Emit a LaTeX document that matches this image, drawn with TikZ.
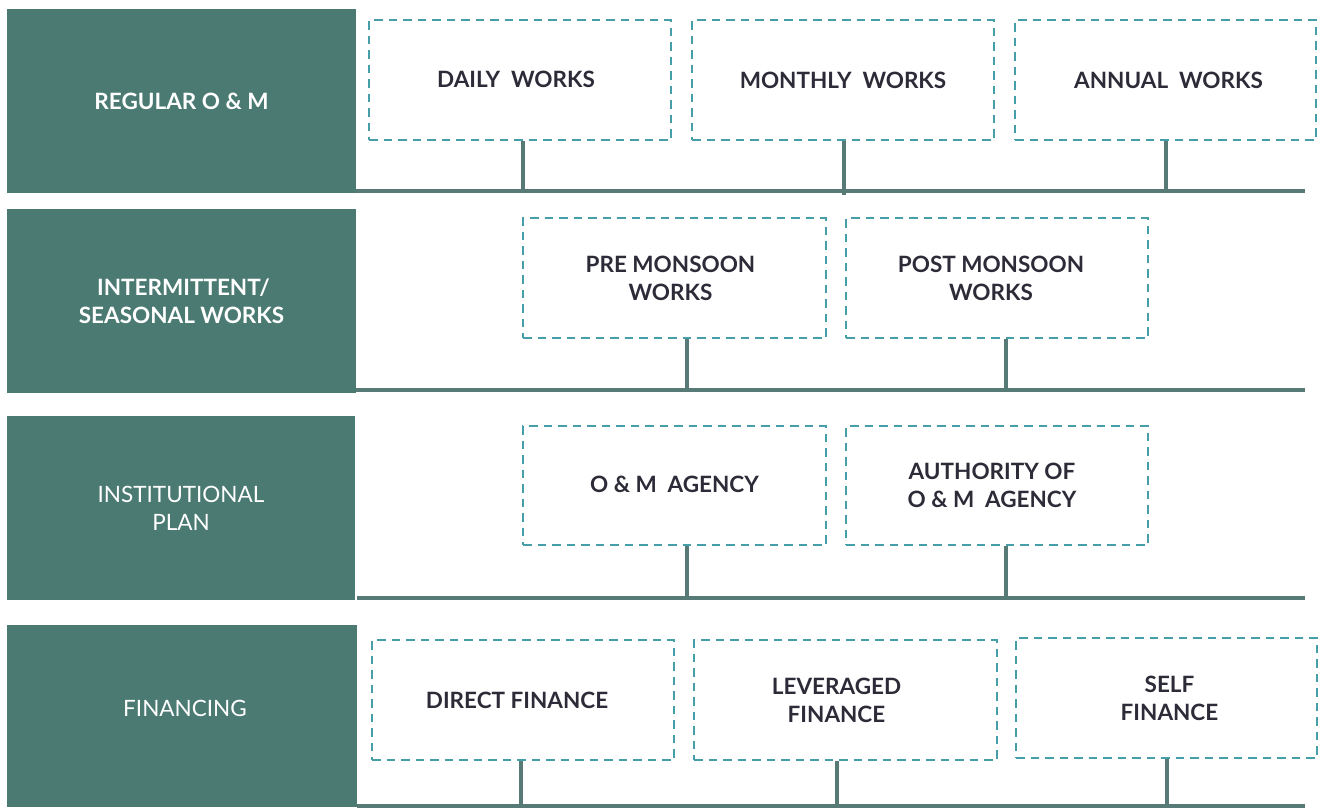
\documentclass[tikz,border=0pt]{standalone}
\usepackage{fontspec}
\setmainfont{Lato}
\usetikzlibrary{calc}
\definecolor{blockgreen}{RGB}{74,122,114}
\definecolor{rulegreen}{RGB}{88,122,118}
\definecolor{dashteal}{RGB}{70,158,168}
\definecolor{inktext}{RGB}{46,43,56}
% move one centred line sideways by #1 (negative = left)
\newcommand\sidestep[2]{\hspace*{#1}\hspace*{#1}#2}
\tikzset{
  catblock/.style={fill=blockgreen, draw=none, inner sep=0pt, align=center,
    text=white, font=\fontsize{22.5}{28}\selectfont},
  itembox/.style={draw=dashteal, line width=2.2pt, dash pattern=on 8.5pt off 6pt,
    inner sep=0pt, align=center, text=inktext,
    font=\fontsize{22.5}{28}\selectfont\bfseries},
  hrule/.style={draw=rulegreen, line width=4pt},
  vlink/.style={draw=rulegreen, line width=3.2pt},
}
\begin{document}
\begin{tikzpicture}[x=1pt,y=-1pt]
\useasboundingbox (0,0) rectangle (1318,807);

% category blocks
\node[catblock, minimum width=349pt, minimum height=184pt] (g1) at (181.5,101) {\bfseries REGULAR O \& M};
\node[catblock, minimum width=349pt, minimum height=184pt] (g2) at (181.5,301) {\bfseries \sidestep{2pt}{INTERMITTENT/}\\\bfseries SEASONAL WORKS};
\node[catblock, minimum width=348pt, minimum height=184pt] (g3) at (181,508) {INSTITUTIONAL\\PLAN};
\node[catblock, minimum width=350pt, minimum height=182pt] (g4) at (182,716) {\raisebox{15pt}{\sidestep{3pt}{FINANCING}}};

% item boxes
\node[itembox, minimum width=302pt, minimum height=120pt] (daily) at (520,80) {\raisebox{2pt}{\sidestep{-4pt}{DAILY\ \ WORKS}}};
\node[itembox, minimum width=302pt, minimum height=120pt] (monthly) at (843,80) {MONTHLY\ \ WORKS};
\node[itembox, minimum width=301pt, minimum height=120pt] (annual) at (1165.5,80) {\sidestep{3pt}{ANNUAL\ \ WORKS}};

\node[itembox, minimum width=303pt, minimum height=120pt] (pre) at (674.5,278) {\sidestep{-4pt}{PRE MONSOON}\\\sidestep{-4pt}{WORKS}};
\node[itembox, minimum width=302pt, minimum height=120pt] (post) at (997,278) {\sidestep{-6pt}{POST MONSOON}\\\sidestep{-6pt}{WORKS}};

\node[itembox, minimum width=303pt, minimum height=119pt] (agency) at (674.5,485.5) {\raisebox{2pt}{O \& M\ \ AGENCY}};
\node[itembox, minimum width=302pt, minimum height=119pt] (authority) at (997,485.5) {\sidestep{-5pt}{AUTHORITY OF}\\\sidestep{-5pt}{O \& M\ \ AGENCY}};

\node[itembox, minimum width=302pt, minimum height=120pt] (direct) at (523,700) {\sidestep{-6pt}{DIRECT FINANCE}};
\node[itembox, minimum width=303pt, minimum height=120pt] (leveraged) at (845.5,700) {\sidestep{-9pt}{LEVERAGED}\\\sidestep{-9pt}{FINANCE}};
\node[itembox, minimum width=301pt, minimum height=120pt] (self) at (1166.5,698) {\sidestep{3pt}{SELF}\\\sidestep{3pt}{FINANCE}};

% baselines under each row
\coordinate (r1a) at (356,191); \coordinate (r1b) at (1305,191);
\coordinate (r2a) at (356,390); \coordinate (r2b) at (1305,390);
\coordinate (r3a) at (357,598); \coordinate (r3b) at (1305,598);
\coordinate (r4a) at (357,806); \coordinate (r4b) at (1305,806);
\draw[hrule] (r1a) -- (r1b);
\draw[hrule] (r2a) -- (r2b);
\draw[hrule] (r3a) -- (r3b);
\draw[hrule] (r4a) -- (r4b);

% connector feet on the baselines
\coordinate (f1a) at (523,191);  \coordinate (f1b) at (844,195);  \coordinate (f1c) at (1166,191);
\coordinate (f2a) at (687,390);  \coordinate (f2b) at (1006,390);
\coordinate (f3a) at (687,598);  \coordinate (f3b) at (1006,598);
\coordinate (f4a) at (521,806);  \coordinate (f4b) at (837,806);  \coordinate (f4c) at (1167,806);

\draw[vlink] (daily.south -| f1a) -- (f1a);
\draw[vlink] (monthly.south -| f1b) -- (f1b);
\draw[vlink] (annual.south -| f1c) -- (f1c);
\draw[vlink] (pre.south -| f2a) -- (f2a);
\draw[vlink] (post.south -| f2b) -- (f2b);
\draw[vlink] (agency.south -| f3a) -- (f3a);
\draw[vlink] (authority.south -| f3b) -- (f3b);
\draw[vlink] (direct.south -| f4a) -- (f4a);
\draw[vlink] (leveraged.south -| f4b) -- (f4b);
\draw[vlink] (self.south -| f4c) -- (f4c);
\end{tikzpicture}
\end{document}
